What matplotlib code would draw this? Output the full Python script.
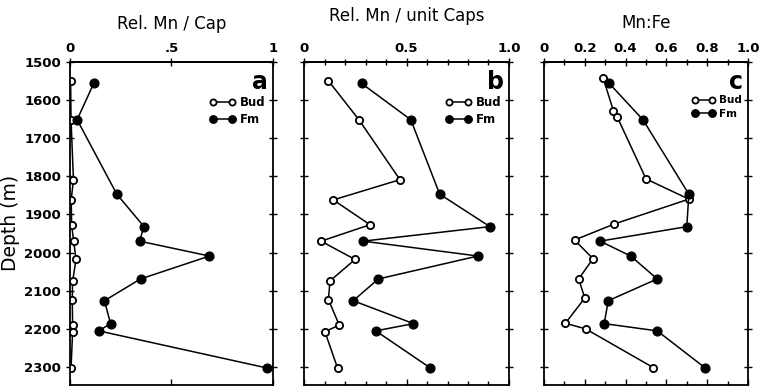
import matplotlib
matplotlib.use("Agg")
import matplotlib.pyplot as plt
from matplotlib.ticker import MultipleLocator

## Sample depths (m)
depth_bud = [1550, 1652, 1809, 1862, 1927, 1970, 2018, 2074, 2123, 2190, 2207, 2303]
depth_bud_c = [1543, 1628, 1646, 1807, 1860, 1925, 1967, 2016, 2069, 2119, 2185, 2200, 2301]
depth_fm = [1557, 1652, 1847, 1932, 1970, 2009, 2069, 2126, 2186, 2205, 2302]

## Relative Mn per cap
mn_cap_bud = [0.003, 0.005, 0.017, 0.006, 0.008, 0.018, 0.03, 0.013, 0.011, 0.013, 0.013, 0.005]
mn_cap_fm = [0.117, 0.035, 0.231, 0.365, 0.343, 0.688, 0.348, 0.170, 0.200, 0.142, 0.97]

## Relative Mn per unit caps
mn_unit_bud = [0.119, 0.268, 0.468, 0.143, 0.322, 0.083, 0.249, 0.127, 0.119, 0.172, 0.102, 0.164]
mn_unit_fm = [0.281, 0.521, 0.662, 0.907, 0.289, 0.848, 0.363, 0.240, 0.534, 0.350, 0.616]

## Mn:Fe ratio
mnfe_bud = [0.29, 0.34, 0.36, 0.50, 0.71, 0.345, 0.15, 0.24, 0.17, 0.20, 0.105, 0.205, 0.535]
mnfe_fm = [0.32, 0.485, 0.71, 0.70, 0.275, 0.425, 0.555, 0.315, 0.295, 0.555, 0.79]

titles = ["Rel. Mn / Cap", "Rel. Mn / unit Caps", "Mn:Fe"]
title_pads = [9, 15, 10]
letters = ["a", "b", "c"]
legend_sizes = [8.5, 8.5, 7.5]
top_ticks = [[0, 0.5, 1], [0, 0.5, 1.0], [0, 0.2, 0.4, 0.6, 0.8, 1.0]]
top_labels = [["0", ".5", "1"], ["0", "0.5", "1.0"],
              ["0", "0.2", "0.4", "0.6", "0.8", "1.0"]]
depth_ticks = [1500, 1600, 1700, 1800, 1900, 2000, 2100, 2200, 2300]

plt.rcParams['font.family'] = ['DejaVu Sans']

fig = plt.figure(figsize=(7.64, 3.88), dpi=100)
boxes = [[70/764, 0.0085, 202.7/764, 0.8325],
         [304/764, 0.0085, 205/764, 0.8325],
         [544/764, 0.0085, 204/764, 0.8325]]
series = [(depth_bud, mn_cap_bud, depth_fm, mn_cap_fm),
          (depth_bud, mn_unit_bud, depth_fm, mn_unit_fm),
          (depth_bud_c, mnfe_bud, depth_fm, mnfe_fm)]

for i in range(3):
    ax = fig.add_axes(boxes[i])
    db, vb, df, vf = series[i]
    ax.plot(vb, db, 'k-', lw=1.1, marker='o', ms=5.2, mfc='white',
            mec='black', mew=1.3, label='Bud')
    ax.plot(vf, df, 'k-', lw=1.1, marker='o', ms=6.3, mfc='black',
            mec='black', label='Fm')
    ax.set_xlim(0, 1)
    ax.set_ylim(2346, 1500)
    for s in ax.spines.values():
        s.set_linewidth(1.3)

    ## depth ticks on both sides, crossing the spine
    ax.set_yticks(depth_ticks)
    ax.tick_params(axis='y', direction='inout', length=6, width=1,
                   left=True, right=True, labelleft=(i == 0), labelright=False)
    if i == 0:
        ax.set_yticklabels([str(d) for d in depth_ticks], fontsize=9.5,
                           fontweight='bold')
        ax.set_ylabel("Depth (m)", fontsize=13.5, labelpad=3)

    ## bottom ticks point inward, no labels
    ax.set_xticks(top_ticks[i])
    ax.tick_params(axis='x', direction='in', length=4, width=1,
                   labelbottom=False)
    if i > 0:
        ax.xaxis.set_minor_locator(MultipleLocator(0.1))
        ax.tick_params(axis='x', which='minor', direction='in', length=3,
                       width=1)

    ## labelled scale along the top
    top = ax.secondary_xaxis('top')
    top.set_xticks(top_ticks[i])
    top.set_xticklabels(top_labels[i], fontsize=9.5, fontweight='bold')
    top.tick_params(direction='inout', length=6, width=1, pad=2)
    if i > 0:
        top.xaxis.set_minor_locator(MultipleLocator(0.1))
        top.tick_params(which='minor', direction='inout', length=4, width=1)
    top.spines['top'].set_linewidth(1.3)
    top.set_xlabel(titles[i], fontsize=12, labelpad=title_pads[i])

    ax.text(0.975, 0.975, letters[i], transform=ax.transAxes, ha='right',
            va='top', fontsize=17, fontweight='heavy')
    ax.legend(loc='upper right', bbox_to_anchor=(1.0, 0.915), frameon=False,
              numpoints=2, handlelength=2.2, handletextpad=0.4,
              labelspacing=0.3, borderaxespad=0.2, markerscale=0.85,
              prop={'weight': 'bold', 'size': legend_sizes[i]})

fig.savefig("out.png", dpi=100)
